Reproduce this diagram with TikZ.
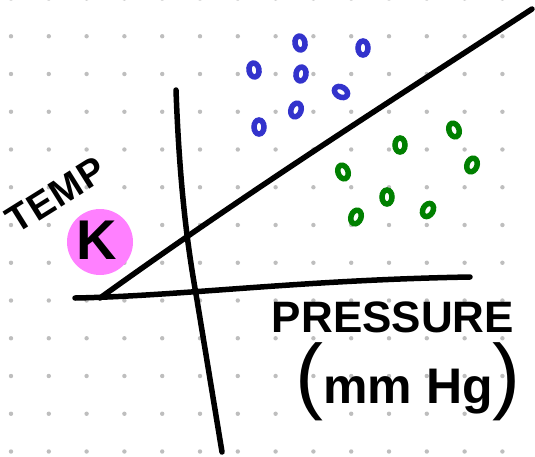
\documentclass[tikz,border=0pt]{standalone}
\usepackage{fontspec}
\setmainfont{Liberation Sans}
\definecolor{dotgray}{RGB}{190,190,190}
\definecolor{pinkc}{RGB}{255,128,255}
\definecolor{blueo}{RGB}{51,51,204}
\definecolor{greeno}{RGB}{0,128,0}
\tikzset{
  axis/.style={line width=5.5pt, line cap=round, line join=round, black},
  blob/.style={line width=5.5pt},
  handtext/.style={font=\bfseries, inner sep=0pt, text=black}
}
\begin{document}
\begin{tikzpicture}[x=1pt,y=-1pt]
\useasboundingbox (0,0) rectangle (535,456);
\fill[white] (0,0) rectangle (535,456);
% dot grid
\foreach \i in {0,...,14}{
  \foreach \j in {0,...,12}{
    \fill[dotgray] ({11+37.8*\i},{-1.5+37.75*\j}) circle (2.2);
  }
}
% pink circle with K
\fill[pinkc] (100,242) circle (33);
\node[handtext, font=\bfseries\fontsize{56}{56}\selectfont] (kel) at (97,240) {K};
% TEMP
\node[handtext, font=\bfseries\fontsize{38}{38}\selectfont, rotate=32] (temp) at (56,195) {T\kern1pt E\kern1pt M\kern1pt P};
% axes
\coordinate (vtop) at (176,90);
\coordinate (vmid) at (197,300);
\coordinate (vbot) at (222,452);
\draw[axis] (vtop) .. controls (180,200) and (190,260) .. (vmid) -- (vbot);
\coordinate (hl) at (75,298);
\coordinate (hr) at (470,277);
\draw[axis] (hl) .. controls (180,296) and (300,280) .. (hr);
\coordinate (dl) at (100,298);
\coordinate (dr) at (532,9);
\draw[axis] (dl) .. controls (250,190) and (400,95) .. (dr);
% blue o's
\foreach \p/\a in {{(300,43)}/10, {(363,48)}/0, {(254,70)}/10, {(301,74)}/-10, {(341,92)}/60, {(296,110)}/-20, {(259,127)}/0}{
  \draw[blob, blueo, rotate around={\a:\p}] \p ellipse (5 and 7);
}
% green o's
\foreach \p/\a in {{(454,130)}/20, {(400,145)}/0, {(472,165)}/-20, {(343,172)}/20, {(387,197)}/0, {(428,210)}/-30, {(356,217)}/-20}{
  \draw[blob, greeno, rotate around={\a:\p}] \p ellipse (5 and 7);
}
% labels
\node[handtext, font=\bfseries\fontsize{44}{44}\selectfont] (press) at (393,317) {PRESSURE};
\node[handtext, font=\bfseries\fontsize{50}{50}\selectfont] (unit) at (408,382) {{\mdseries\fontsize{84}{84}\selectfont(}mm Hg{\mdseries\fontsize{84}{84}\selectfont)}};
\end{tikzpicture}
\end{document}
